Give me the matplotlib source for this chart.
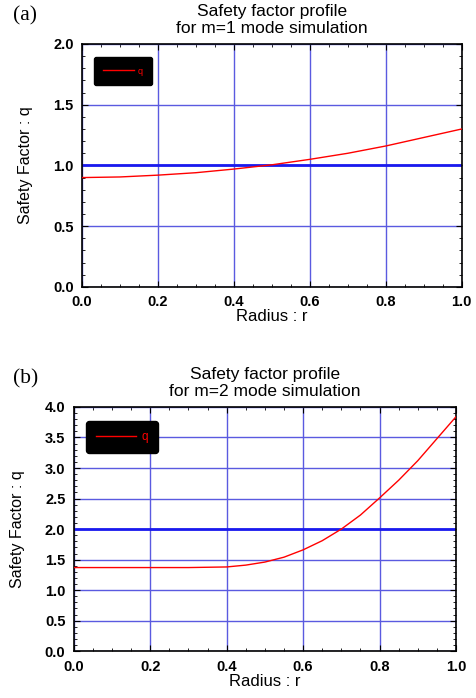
import matplotlib
matplotlib.use("Agg")
import matplotlib.pyplot as plt
from matplotlib.ticker import MultipleLocator

plt.rcParams['font.family'] = ['Liberation Sans', 'DejaVu Sans']

# (a) m=1 profile
r_a = [0.0, 0.1, 0.2, 0.3, 0.4, 0.5, 0.6, 0.7, 0.8, 0.9, 1.0]
q_a = [0.90, 0.905, 0.92, 0.94, 0.97, 1.005, 1.05, 1.10, 1.16, 1.23, 1.30]

# (b) m=2 profile
r_b = [0.0, 0.1, 0.2, 0.3, 0.4, 0.45, 0.5, 0.55, 0.6, 0.65, 0.7, 0.75,
       0.8, 0.85, 0.9, 0.95, 1.0]
q_b = [1.37, 1.37, 1.37, 1.37, 1.38, 1.41, 1.46, 1.54, 1.66, 1.81, 2.0,
       2.23, 2.51, 2.80, 3.12, 3.48, 3.84]

panels = [
    dict(tag='(a)', title='Safety factor profile\nfor m=1 mode simulation',
         r=r_a, q=q_a, ymax=2.0, qline=1.0, legsize=6.5, legpad=0.8,
         pos=[0.172, 0.589, 0.798, 0.348]),
    dict(tag='(b)', title='Safety factor profile\nfor m=2 mode simulation',
         r=r_b, q=q_b, ymax=4.0, qline=2.0, legsize=8.5, legpad=0.6,
         pos=[0.155, 0.067, 0.803, 0.350]),
]

fig = plt.figure(figsize=(4.76, 6.98), dpi=100)

for p in panels:
    ax = fig.add_axes(p['pos'])
    ax.plot(p['r'], p['q'], color='red', lw=1, label='q', zorder=3)
    ax.axhline(p['qline'], color='#1a1aee', lw=2, zorder=2)
    ax.set_xlim(0, 1)
    ax.set_ylim(0, p['ymax'])
    ax.xaxis.set_major_locator(MultipleLocator(0.2))
    ax.xaxis.set_minor_locator(MultipleLocator(0.05))
    ax.yaxis.set_major_locator(MultipleLocator(0.5))
    ax.yaxis.set_minor_locator(MultipleLocator(0.1))
    ax.grid(True, which='major', color='#5a5ae0', lw=1)
    ax.set_axisbelow(True)
    ax.tick_params(which='both', direction='in', top=True, right=True,
                   labelsize=10.5)
    ax.tick_params(which='major', length=4, pad=6)
    ax.tick_params(which='minor', length=2.5)
    ax.set_xticklabels(['%.1f' % v for v in ax.get_xticks()], fontweight='bold')
    ax.set_yticklabels(['%.1f' % v for v in ax.get_yticks()], fontweight='bold')
    ax.set_xlabel('Radius : r', fontsize=12, labelpad=0)
    ax.set_ylabel('Safety Factor : q', fontsize=11.5, labelpad=14)
    ax.set_title(p['title'], fontsize=12.5, linespacing=1.12, pad=8)
    for s in ax.spines.values():
        s.set_linewidth(1.2)
    leg = ax.legend(loc='upper left', facecolor='black', edgecolor='black',
                    labelcolor='red', fontsize=p['legsize'], framealpha=1,
                    handlelength=3.4, handletextpad=0.4, borderpad=p['legpad'],
                    bbox_to_anchor=(0.025, 0.955))
    leg.get_frame().set_boxstyle('round', pad=0.25)
    fig.text(0.027, p['pos'][1] + p['pos'][3] + 0.033, p['tag'],
             family='Liberation Serif', fontsize=15.5)

fig.savefig('out.png', dpi=100)
